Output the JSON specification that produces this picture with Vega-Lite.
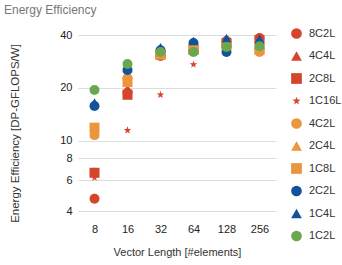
{
  "$schema": "https://vega.github.io/schema/vega-lite/v6.json",
  "width": 198,
  "height": 191,
  "autosize": "none",
  "padding": {"left": 78, "top": 26, "right": 66, "bottom": 48},
  "title": {"text": "Energy Efficiency", "anchor": "start", "frame": "group", "fontSize": 12, "fontWeight": "normal", "color": "#777777", "font": "Liberation Sans", "offset": 9, "dx": -74},
  "config": {
    "view": {"stroke": null},
    "font": "Liberation Sans",
    "axis": {"labelFont": "Liberation Sans", "titleFont": "Liberation Sans", "labelFontSize": 11, "titleFontSize": 11, "titleFontWeight": "normal", "labelColor": "#222222", "titleColor": "#333333", "domain": false, "ticks": false},
    "legend": {"labelFont": "Liberation Sans", "labelFontSize": 11, "labelColor": "#333333"}
  },
  "data": {"values": [
    {"s": "8C2L", "x": "8", "v": 4.7}, {"s": "8C2L", "x": "16", "v": 18.8}, {"s": "8C2L", "x": "32", "v": 30.4}, {"s": "8C2L", "x": "64", "v": 32.8}, {"s": "8C2L", "x": "128", "v": 37}, {"s": "8C2L", "x": "256", "v": 38.5},
    {"s": "4C4L", "x": "8", "v": 6.7}, {"s": "4C4L", "x": "16", "v": 19.8}, {"s": "4C4L", "x": "32", "v": 33.5}, {"s": "4C4L", "x": "64", "v": 33}, {"s": "4C4L", "x": "128", "v": 37.5}, {"s": "4C4L", "x": "256", "v": 38.8},
    {"s": "2C8L", "x": "8", "v": 6.6}, {"s": "2C8L", "x": "16", "v": 18.3}, {"s": "2C8L", "x": "32", "v": 31}, {"s": "2C8L", "x": "64", "v": 33}, {"s": "2C8L", "x": "128", "v": 36}, {"s": "2C8L", "x": "256", "v": 37.5},
    {"s": "1C16L", "x": "8", "v": 6.2}, {"s": "1C16L", "x": "16", "v": 11.5}, {"s": "1C16L", "x": "32", "v": 18.3}, {"s": "1C16L", "x": "64", "v": 27.2},
    {"s": "4C2L", "x": "8", "v": 10.8}, {"s": "4C2L", "x": "16", "v": 22.8}, {"s": "4C2L", "x": "32", "v": 30.8}, {"s": "4C2L", "x": "64", "v": 32.4}, {"s": "4C2L", "x": "128", "v": 35.5}, {"s": "4C2L", "x": "256", "v": 32},
    {"s": "2C4L", "x": "8", "v": 11}, {"s": "2C4L", "x": "16", "v": 23.5}, {"s": "2C4L", "x": "32", "v": 32}, {"s": "2C4L", "x": "64", "v": 33.5}, {"s": "2C4L", "x": "128", "v": 36}, {"s": "2C4L", "x": "256", "v": 33},
    {"s": "1C8L", "x": "8", "v": 11.9}, {"s": "1C8L", "x": "16", "v": 21.6}, {"s": "1C8L", "x": "32", "v": 31}, {"s": "1C8L", "x": "64", "v": 33}, {"s": "1C8L", "x": "128", "v": 35}, {"s": "1C8L", "x": "256", "v": 33},
    {"s": "2C2L", "x": "8", "v": 15.8}, {"s": "2C2L", "x": "16", "v": 25.3}, {"s": "2C2L", "x": "32", "v": 32.8}, {"s": "2C2L", "x": "64", "v": 36}, {"s": "2C2L", "x": "128", "v": 32}, {"s": "2C2L", "x": "256", "v": 33.3},
    {"s": "1C4L", "x": "8", "v": 16.5}, {"s": "1C4L", "x": "16", "v": 26}, {"s": "1C4L", "x": "32", "v": 34}, {"s": "1C4L", "x": "64", "v": 37}, {"s": "1C4L", "x": "128", "v": 38.4}, {"s": "1C4L", "x": "256", "v": 38},
    {"s": "1C2L", "x": "8", "v": 19.5}, {"s": "1C2L", "x": "16", "v": 27.4}, {"s": "1C2L", "x": "32", "v": 32}, {"s": "1C2L", "x": "64", "v": 32}, {"s": "1C2L", "x": "128", "v": 34.2}, {"s": "1C2L", "x": "256", "v": 34.5}
  ]},
  "mark": {"type": "point", "filled": true, "opacity": 1, "size": 100},
  "encoding": {
    "x": {"field": "x", "type": "ordinal", "sort": ["8", "16", "32", "64", "128", "256"], "scale": {"type": "point", "padding": 0.5}, "axis": {"title": "Vector Length [#elements]", "labelAngle": 0, "labelPadding": 6, "titlePadding": 12, "grid": false}},
    "y": {"field": "v", "type": "quantitative", "scale": {"type": "log", "domain": [3.7, 45]}, "axis": {"title": "Energy Efficiency [DP-GFLOPS/W]", "titleFontSize": 11.5, "titleY": 107, "values": [4, 6, 8, 10, 20, 40], "gridColor": "#dddddd", "labelPadding": 6, "titlePadding": 39}},
    "color": {"field": "s", "type": "nominal",
      "scale": {"domain": ["8C2L", "4C4L", "2C8L", "1C16L", "4C2L", "2C4L", "1C8L", "2C2L", "1C4L", "1C2L"], "range": ["#d4452b", "#d4452b", "#d4452b", "#d4452b", "#eb953d", "#eb953d", "#eb953d", "#13539b", "#13539b", "#6aa84f"]},
      "legend": {"title": null, "orient": "none", "legendX": 212, "legendY": 1, "symbolSize": 115, "rowPadding": 10.5, "labelOffset": 6}},
    "shape": {"field": "s", "type": "nominal",
      "scale": {"domain": ["8C2L", "4C4L", "2C8L", "1C16L", "4C2L", "2C4L", "1C8L", "2C2L", "1C4L", "1C2L"], "range": ["circle", "triangle-up", "square", "M0,-0.8L0.188,-0.259L0.761,-0.247L0.304,0.099L0.47,0.647L0,0.32L-0.47,0.647L-0.304,0.099L-0.761,-0.247L-0.188,-0.259Z", "circle", "triangle-up", "square", "circle", "triangle-up", "circle"]},
      "legend": null},
    "order": {"field": "s", "sort": "descending"}
  }
}
